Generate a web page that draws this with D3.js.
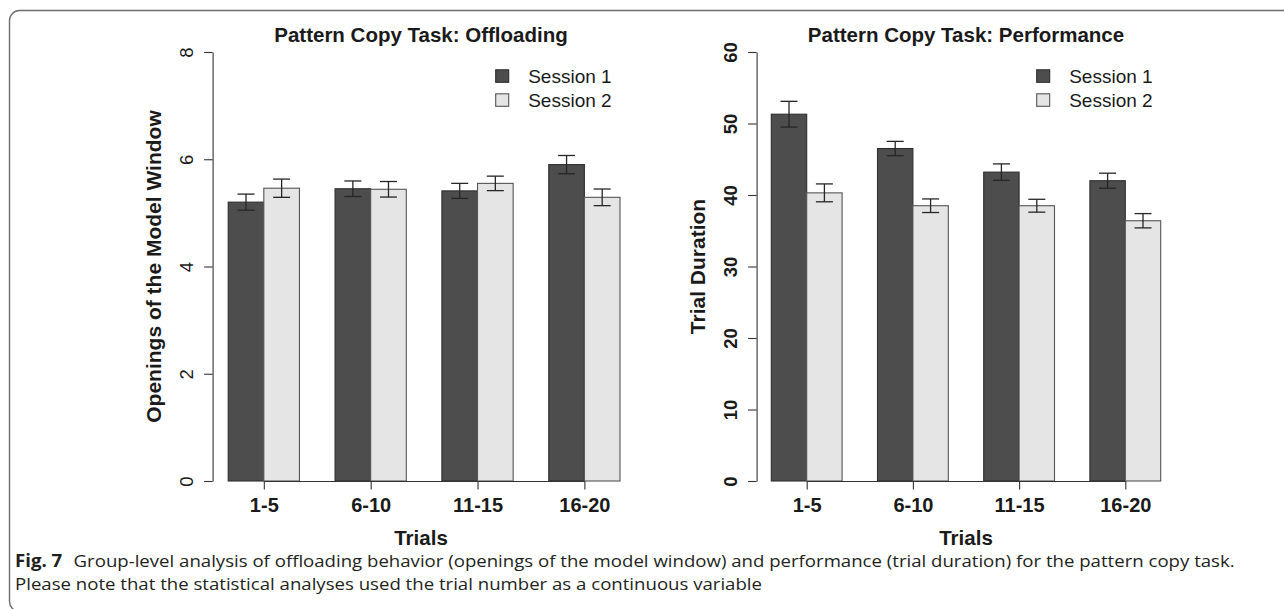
<!DOCTYPE html>
<html>
<head>
<meta charset="utf-8">
<script src="https://cdn.jsdelivr.net/npm/d3@7"></script>
<style>
  html, body { margin: 0; padding: 0; background: #fff; }
  svg { display: block; }
</style>
</head>
<body>
<svg id="chart" width="1284" height="609"></svg>
<script>
// ---- data ----
const categories = ["1-5", "6-10", "11-15", "16-20"];
const seriesNames = ["Session 1", "Session 2"];

const offloadSession1 = [5.20, 5.45, 5.41, 5.90];
const offloadSession2 = [5.46, 5.44, 5.55, 5.29];
const offloadSE1 = [0.15, 0.145, 0.14, 0.17];
const offloadSE2 = [0.17, 0.145, 0.135, 0.155];
const offloadTicks = [0, 2, 4, 6, 8];

const perfSession1 = [51.3, 46.5, 43.2, 42.0];
const perfSession2 = [40.3, 38.5, 38.5, 36.4];
const perfSE1 = [1.8, 1.0, 1.15, 1.05];
const perfSE2 = [1.25, 0.95, 0.9, 1.0];
const perfTicks = [0, 10, 20, 30, 40, 50, 60];

const colors = ["#4d4d4d", "#e5e5e5"];
const strokeColors = ["#2e2e2e", "#555555"];

const svg = d3.select("#chart");
const FONT = "'Liberation Sans', Arial, Helvetica, sans-serif";
const TXT = "#1a1a1a";

// outer rounded frame
svg.append("rect")
  .attr("x", 9.5).attr("y", 10.5)
  .attr("width", 1320).attr("height", 601)
  .attr("rx", 10).attr("ry", 10)
  .attr("fill", "none").attr("stroke", "#6e6e6e").attr("stroke-width", 1.4);

function drawPanel(cfg) {
  const g = svg.append("g");
  const y = d3.scaleLinear().domain(cfg.domain).range([481, 52]);
  const x0 = d3.scaleBand().domain(categories)
    .range([cfg.barsLeft, cfg.barsRight]).paddingInner(1 / 3).paddingOuter(0);
  const x1 = d3.scaleBand().domain(seriesNames).range([0, x0.bandwidth()]);

  const rows = categories.map((c, i) => ({
    cat: c,
    vals: [
      { s: seriesNames[0], v: cfg.s1[i], se: cfg.se1[i], k: 0 },
      { s: seriesNames[1], v: cfg.s2[i], se: cfg.se2[i], k: 1 }
    ]
  }));

  // bars
  const grp = g.selectAll("g.grp").data(rows).enter().append("g")
    .attr("transform", d => `translate(${x0(d.cat)},0)`);
  grp.selectAll("rect").data(d => d.vals).enter().append("rect")
    .attr("x", d => x1(d.s))
    .attr("y", d => y(d.v))
    .attr("width", x1.bandwidth())
    .attr("height", d => y(0) - y(d.v))
    .attr("fill", d => colors[d.k])
    .attr("stroke", d => strokeColors[d.k])
    .attr("stroke-width", 1.1);

  // error bars
  const cap = 8.5;
  const eb = grp.selectAll("g.eb").data(d => d.vals).enter().append("g")
    .attr("stroke", "#262626").attr("stroke-width", 1.3);
  eb.append("line")
    .attr("x1", d => x1(d.s) + x1.bandwidth() / 2)
    .attr("x2", d => x1(d.s) + x1.bandwidth() / 2)
    .attr("y1", d => y(d.v - d.se)).attr("y2", d => y(d.v + d.se));
  eb.append("line")
    .attr("x1", d => x1(d.s) + x1.bandwidth() / 2 - cap)
    .attr("x2", d => x1(d.s) + x1.bandwidth() / 2 + cap)
    .attr("y1", d => y(d.v + d.se)).attr("y2", d => y(d.v + d.se));
  eb.append("line")
    .attr("x1", d => x1(d.s) + x1.bandwidth() / 2 - cap)
    .attr("x2", d => x1(d.s) + x1.bandwidth() / 2 + cap)
    .attr("y1", d => y(d.v - d.se)).attr("y2", d => y(d.v - d.se));

  // y axis
  const yAxis = d3.axisLeft(y).tickValues(cfg.ticks).tickSize(8.5).tickSizeOuter(0)
    .tickFormat(d3.format("d"));
  const ya = g.append("g").attr("transform", `translate(${cfg.axisX},0)`).call(yAxis);
  ya.select(".domain").attr("stroke", "#333").attr("stroke-width", 1.1);
  ya.selectAll(".tick line").attr("stroke", "#333").attr("stroke-width", 1.1);
  ya.selectAll(".tick text")
    .attr("font-family", FONT)
    .attr("font-size", 18.5)
    .attr("font-weight", cfg.boldY ? "bold" : "normal")
    .attr("fill", TXT)
    .attr("text-anchor", "middle")
    .attr("dy", null)
    .attr("x", null)
    .attr("transform", "translate(-20,0) rotate(-90)")
    .attr("y", 0);

  // x axis (ticks at group centres)
  const centres = categories.map(c => x0(c) + x0.bandwidth() / 2);
  const xpos = d3.scalePoint().domain(categories).range([centres[0], centres[3]]);
  const xAxis = d3.axisBottom(xpos).tickSize(8.5).tickSizeOuter(0);
  const xa = g.append("g").attr("transform", "translate(0,481)").call(xAxis);
  xa.select(".domain").attr("stroke", "#333").attr("stroke-width", 1.1);
  xa.selectAll(".tick line").attr("stroke", "#333").attr("stroke-width", 1.1);
  xa.selectAll(".tick text")
    .attr("font-family", FONT).attr("font-size", 20).attr("font-weight", "bold")
    .attr("fill", TXT).attr("dy", null).attr("y", 30.7);

  // titles
  g.append("text").attr("x", cfg.titleX).attr("y", 41.7)
    .attr("text-anchor", "middle").attr("font-family", FONT)
    .attr("font-size", 20.5).attr("font-weight", "bold").attr("fill", TXT)
    .text(cfg.title);
  g.append("text").attr("x", cfg.titleX).attr("y", 545)
    .attr("text-anchor", "middle").attr("font-family", FONT)
    .attr("font-size", 20.5).attr("font-weight", "bold").attr("fill", TXT)
    .text("Trials");
  g.append("text")
    .attr("transform", `translate(${cfg.axisX - 51.6},${(y(cfg.domain[0]) + y(cfg.domain[1])) / 2}) rotate(-90)`)
    .attr("text-anchor", "middle").attr("font-family", FONT)
    .attr("font-size", 21).attr("font-weight", "bold").attr("fill", TXT)
    .text(cfg.ylab);

  // legend
  const lg = g.append("g");
  seriesNames.forEach((s, k) => {
    lg.append("rect")
      .attr("x", cfg.legendX).attr("y", 69.8 + k * 24)
      .attr("width", 13).attr("height", 12.5)
      .attr("fill", colors[k]).attr("stroke", strokeColors[k]).attr("stroke-width", 1.1);
    lg.append("text")
      .attr("x", cfg.legendX + 32.5).attr("y", 83.3 + k * 23.6)
      .attr("font-family", FONT).attr("font-size", 19).attr("fill", TXT)
      .text(s);
  });
}

drawPanel({
  domain: [0, 8], ticks: offloadTicks, boldY: false,
  s1: offloadSession1, s2: offloadSession2, se1: offloadSE1, se2: offloadSE2,
  axisX: 212.6, barsLeft: 228.2, barsRight: 620.0, titleX: 421,
  legendX: 495.7,
  title: "Pattern Copy Task: Offloading",
  ylab: "Openings of the Model Window"
});
drawPanel({
  domain: [0, 60], ticks: perfTicks, boldY: true,
  s1: perfSession1, s2: perfSession2, se1: perfSE1, se2: perfSE2,
  axisX: 756.6, barsLeft: 771.3, barsRight: 1160.7, titleX: 966,
  legendX: 1036.7,
  title: "Pattern Copy Task: Performance",
  ylab: "Trial Duration"
});

// caption
const CAPFONT = "'Open Sans', 'Noto Sans', sans-serif";
const cap = svg.append("g");
const line1 = cap.append("text").attr("x", 0).attr("y", 566.7)
  .attr("font-family", CAPFONT).attr("font-size", 17).attr("fill", "#231f20");
line1.append("tspan").attr("font-weight", "bold").text("Fig. 7");
line1.append("tspan").attr("dx", 6).text(" Group-level analysis of offloading behavior (openings of the model window) and performance (trial duration) for the pattern copy task.");
const line2 = cap.append("text").attr("x", 0).attr("y", 590.3)
  .attr("font-family", CAPFONT).attr("font-size", 17).attr("fill", "#231f20")
  .text("Please note that the statistical analyses used the trial number as a continuous variable");
const natural = line1.node().getComputedTextLength();
const sx = (1229 - 15) / natural;
cap.attr("transform", `translate(15,0) scale(${sx},1)`);
</script>
</body>
</html>
